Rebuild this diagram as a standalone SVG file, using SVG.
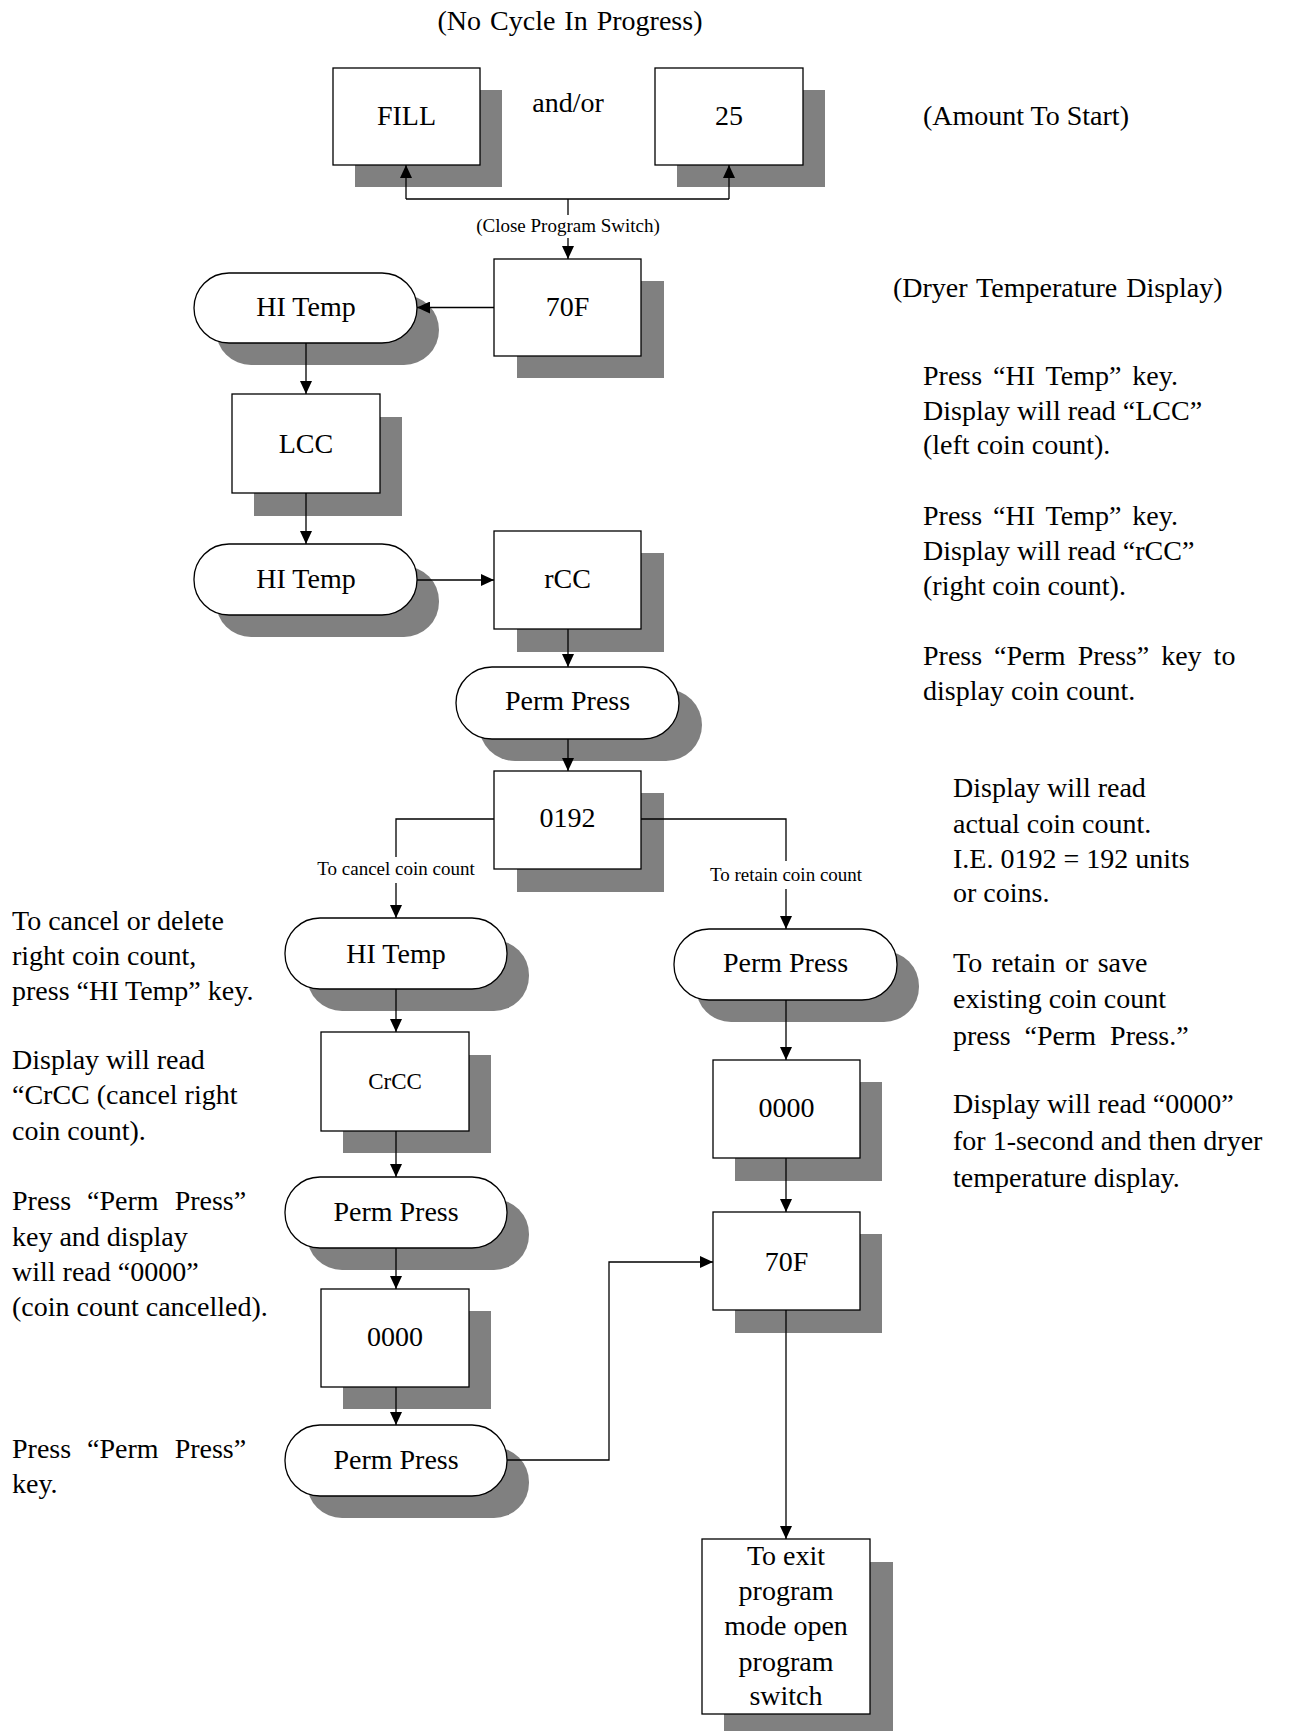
<svg xmlns="http://www.w3.org/2000/svg" width="1293" height="1731" viewBox="0 0 1293 1731">
<style>
text{font-family:"Liberation Serif","Times New Roman",serif;fill:#000}
.t{font-size:28px}
.c{text-anchor:middle}
.s{font-size:19px}
.box{fill:#fff;stroke:#000;stroke-width:1.3}
.sh{fill:#808080}
.ln{fill:none;stroke:#000;stroke-width:1.3}
.ar{marker-end:url(#ah)}
</style>
<defs>
<marker id="ah" viewBox="0 0 13 12" refX="13" refY="6" markerWidth="13" markerHeight="12" orient="auto" markerUnits="userSpaceOnUse">
<path d="M0,0 L13,6 L0,12 z" fill="#000"/>
</marker>
</defs>
<rect width="1293" height="1731" fill="#fff"/>

<!-- free texts -->
<g id="notes">
<text class="t c" x="570" y="30" word-spacing="2">(No Cycle In Progress)</text>
<text class="t c" x="568" y="112">and/or</text>
<text class="t" x="923" y="125">(Amount To Start)</text>
<text class="t" x="893" y="297" word-spacing="2">(Dryer Temperature Display)</text>
<text class="t" x="923" y="385" word-spacing="4">Press “HI Temp” key.</text>
<text class="t" x="923" y="420">Display will read “LCC”</text>
<text class="t" x="923" y="454">(left coin count).</text>
<text class="t" x="923" y="525" word-spacing="4">Press “HI Temp” key.</text>
<text class="t" x="923" y="560">Display will read “rCC”</text>
<text class="t" x="923" y="595">(right coin count).</text>
<text class="t" x="923" y="665" word-spacing="5">Press “Perm Press” key to</text>
<text class="t" x="923" y="700">display coin count.</text>
<text class="t" x="953" y="797">Display will read</text>
<text class="t" x="953" y="833">actual coin count.</text>
<text class="t" x="953" y="868">I.E. 0192 = 192 units</text>
<text class="t" x="953" y="902">or coins.</text>
<text class="t" x="953" y="972" word-spacing="2.5">To retain or save</text>
<text class="t" x="953" y="1008">existing coin count</text>
<text class="t" x="953" y="1045" word-spacing="7">press “Perm Press.”</text>
<text class="t" x="953" y="1113">Display will read “0000”</text>
<text class="t" x="953" y="1150">for 1-second and then dryer</text>
<text class="t" x="953" y="1187">temperature display.</text>
<text class="t" x="12" y="930">To cancel or delete</text>
<text class="t" x="12" y="965">right coin count,</text>
<text class="t" x="12" y="1000">press “HI Temp” key.</text>
<text class="t" x="12" y="1069">Display will read</text>
<text class="t" x="12" y="1104">“CrCC (cancel right</text>
<text class="t" x="12" y="1140">coin count).</text>
<text class="t" x="12" y="1210" word-spacing="9">Press “Perm Press”</text>
<text class="t" x="12" y="1246">key and display</text>
<text class="t" x="12" y="1281">will read “0000”</text>
<text class="t" x="12" y="1316">(coin count cancelled).</text>
<text class="t" x="12" y="1458" word-spacing="9">Press “Perm Press”</text>
<text class="t" x="12" y="1493">key.</text>
</g>

<!-- nodes -->
<g id="n-fill"><rect class="sh" x="355" y="90" width="147" height="97"/><rect class="box" x="333" y="68" width="147" height="97"/><text class="t c" x="406.5" y="125">FILL</text></g>
<g id="n-25"><rect class="sh" x="677" y="90" width="148" height="97"/><rect class="box" x="655" y="68" width="148" height="97"/><text class="t c" x="729" y="125">25</text></g>
<g id="n-70f-top"><rect class="sh" x="517" y="281" width="147" height="97"/><rect class="box" x="494" y="259" width="147" height="97"/><text class="t c" x="567.5" y="316">70F</text></g>
<g id="n-hitemp-1"><rect class="sh" x="216" y="295" width="223" height="70" rx="35"/><rect class="box" x="194" y="273" width="223" height="70" rx="35"/><text class="t c" x="306" y="316">HI Temp</text></g>
<g id="n-lcc"><rect class="sh" x="254" y="417" width="148" height="99"/><rect class="box" x="232" y="394" width="148" height="99"/><text class="t c" x="306" y="453">LCC</text></g>
<g id="n-hitemp-2"><rect class="sh" x="216" y="566" width="223" height="71" rx="35"/><rect class="box" x="194" y="544" width="223" height="71" rx="35"/><text class="t c" x="306" y="588">HI Temp</text></g>
<g id="n-rcc"><rect class="sh" x="517" y="553" width="147" height="99"/><rect class="box" x="494" y="531" width="147" height="98"/><text class="t c" x="567.5" y="588">rCC</text></g>
<g id="n-perm-1"><rect class="sh" x="479" y="689" width="223" height="72" rx="36"/><rect class="box" x="456" y="667" width="223" height="72" rx="36"/><text class="t c" x="567.5" y="710">Perm Press</text></g>
<g id="n-0192"><rect class="sh" x="517" y="793" width="147" height="99"/><rect class="box" x="494" y="771" width="147" height="98"/><text class="t c" x="567.5" y="827">0192</text></g>
<g id="n-hitemp-3"><rect class="sh" x="307" y="940" width="222" height="71" rx="35"/><rect class="box" x="285" y="918" width="222" height="71" rx="35"/><text class="t c" x="396" y="963">HI Temp</text></g>
<g id="n-crcc"><rect class="sh" x="343" y="1055" width="148" height="98"/><rect class="box" x="321" y="1032" width="148" height="99"/><text class="c" style="font-size:23px" x="395" y="1089">CrCC</text></g>
<g id="n-perm-2"><rect class="sh" x="307" y="1199" width="222" height="71" rx="35"/><rect class="box" x="285" y="1177" width="222" height="71" rx="35"/><text class="t c" x="396" y="1221">Perm Press</text></g>
<g id="n-0000-l"><rect class="sh" x="343" y="1311" width="148" height="98"/><rect class="box" x="321" y="1289" width="148" height="98"/><text class="t c" x="395" y="1346">0000</text></g>
<g id="n-perm-3"><rect class="sh" x="307" y="1447" width="222" height="71" rx="35"/><rect class="box" x="285" y="1425" width="222" height="71" rx="35"/><text class="t c" x="396" y="1469">Perm Press</text></g>
<g id="n-perm-r"><rect class="sh" x="696" y="951" width="223" height="71" rx="35"/><rect class="box" x="674" y="929" width="223" height="71" rx="35"/><text class="t c" x="785.5" y="972">Perm Press</text></g>
<g id="n-0000-r"><rect class="sh" x="735" y="1082" width="147" height="99"/><rect class="box" x="713" y="1060" width="147" height="98"/><text class="t c" x="786.5" y="1117">0000</text></g>
<g id="n-70f-r"><rect class="sh" x="735" y="1234" width="147" height="99"/><rect class="box" x="713" y="1212" width="147" height="98"/><text class="t c" x="786.5" y="1271">70F</text></g>
<g id="n-exit"><rect class="sh" x="724" y="1562" width="169" height="175"/><rect class="box" x="702" y="1539" width="168" height="175"/>
<text class="t c" x="786" y="1565">To exit</text>
<text class="t c" x="786" y="1600">program</text>
<text class="t c" x="786" y="1635">mode open</text>
<text class="t c" x="786" y="1671">program</text>
<text class="t c" x="786" y="1705">switch</text></g>

<!-- connectors -->
<g id="connectors">
<path class="ln" d="M406,199 H729"/>
<path class="ln ar" d="M406,199 V165"/>
<path class="ln ar" d="M729,199 V165"/>
<path class="ln" d="M568,199 V215"/>
<text class="s c" x="568" y="232">(Close Program Switch)</text>
<path class="ln ar" d="M568,238 V259"/>
<path class="ln ar" d="M494,307.5 H417"/>
<path class="ln ar" d="M306,343 V394"/>
<path class="ln ar" d="M306,493 V544"/>
<path class="ln ar" d="M417,580 H494"/>
<path class="ln ar" d="M568,629 V667"/>
<path class="ln ar" d="M568,739 V771"/>
<path class="ln" d="M494,819 H396 V857"/>
<text class="s c" x="396" y="875">To cancel coin count</text>
<path class="ln ar" d="M396,883 V918"/>
<path class="ln" d="M641,819 H786 V861"/>
<text class="s c" x="786" y="881">To retain coin count</text>
<path class="ln ar" d="M786,889 V929"/>
<path class="ln ar" d="M396,989 V1032"/>
<path class="ln ar" d="M396,1131 V1177"/>
<path class="ln ar" d="M396,1248 V1289"/>
<path class="ln ar" d="M396,1387 V1425"/>
<path class="ln ar" d="M507,1460 H609 V1262 H713"/>
<path class="ln ar" d="M786,1000 V1060"/>
<path class="ln ar" d="M786,1158 V1212"/>
<path class="ln ar" d="M786,1310 V1539"/>
</g>
</svg>
